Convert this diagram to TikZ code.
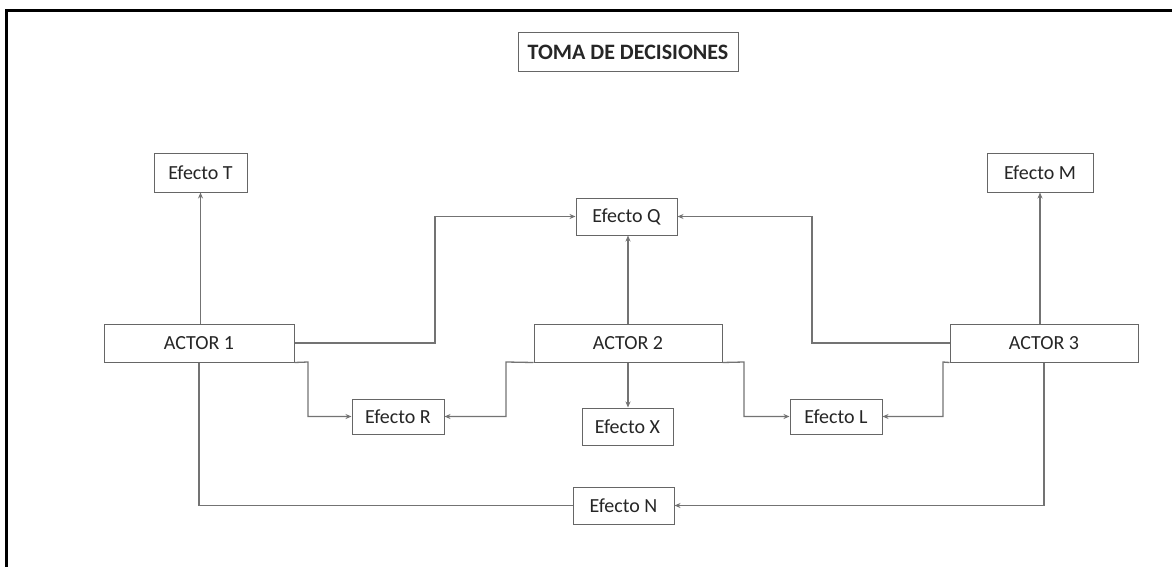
\documentclass[tikz,border=0pt]{standalone}
\usepackage{fontspec}
\setmainfont{Carlito}
\usetikzlibrary{arrows.meta}
\tikzset{
  box/.style={draw=black!60, line width=1pt, fill=white, inner sep=0pt, font=\fontsize{20}{24}\selectfont, text=black!85},
  conn/.style={draw=black!55, line width=1.3pt},
  arr/.style={conn, -{Stealth[length=6pt,width=5pt]}}
}
\begin{document}
\begin{tikzpicture}[x=1pt,y=-1pt]
\useasboundingbox (0,0) rectangle (1172,567);
\draw[line width=3pt] (6,567) -- (6,11) -- (1172,11);
% nodes
\node[box, minimum width=220pt, minimum height=39pt, font=\bfseries\fontsize{22}{26}\selectfont] (title) at (628,52.5) {TOMA DE DECISIONES};
\node[box, minimum width=93pt, minimum height=39pt] (T) at (200.5,172.5) {Efecto T};
\node[box, minimum width=101pt, minimum height=37pt] (Q) at (626.5,216.5) {Efecto Q};
\node[box, minimum width=106pt, minimum height=39pt] (M) at (1040,172.5) {Efecto M};
\node[box, minimum width=190pt, minimum height=38pt] (A1) at (199,343) {ACTOR 1};
\node[box, minimum width=188pt, minimum height=38pt] (A2) at (628,343) {ACTOR 2};
\node[box, minimum width=188pt, minimum height=38pt] (A3) at (1044,343) {ACTOR 3};
\node[box, minimum width=92pt, minimum height=35pt] (R) at (398,416.5) {Efecto R};
\node[box, minimum width=91pt, minimum height=37pt] (X) at (627.5,426.5) {Efecto X};
\node[box, minimum width=92pt, minimum height=35pt] (L) at (836,416.5) {Efecto L};
\node[box, minimum width=101pt, minimum height=37pt] (N) at (623.5,505.5) {Efecto N};
% bend points
\coordinate (b1) at (435,343);
\coordinate (b2) at (308,362);
\coordinate (b3) at (506,362);
\coordinate (b4) at (744,362);
\coordinate (b5) at (812,343);
\coordinate (b6) at (943,362);
% connectors
\draw[arr] (T.south |- A1.north) -- (T.south);
\draw[arr] (A1.east) -- (b1) |- (Q.west);
\draw[arr] (A1.south east) -- (b2) |- (R.west);
\draw[conn] (A1.south) |- (N.west);
\draw[arr] (A2.north) -- (A2.north |- Q.south);
\draw[arr] (A2.south) -- (A2.south |- X.north);
\draw[arr] (A2.south west) -- (b3) |- (R.east);
\draw[arr] (A2.south east) -- (b4) |- (L.west);
\draw[arr] (A3.west) -- (b5) |- (Q.east);
\draw[arr] (A3.south west) -- (b6) |- (L.east);
\draw[arr] (A3.north -| M.south) -- (M.south);
\draw[arr] (A3.south) |- (N.east);
\end{tikzpicture}
\end{document}
